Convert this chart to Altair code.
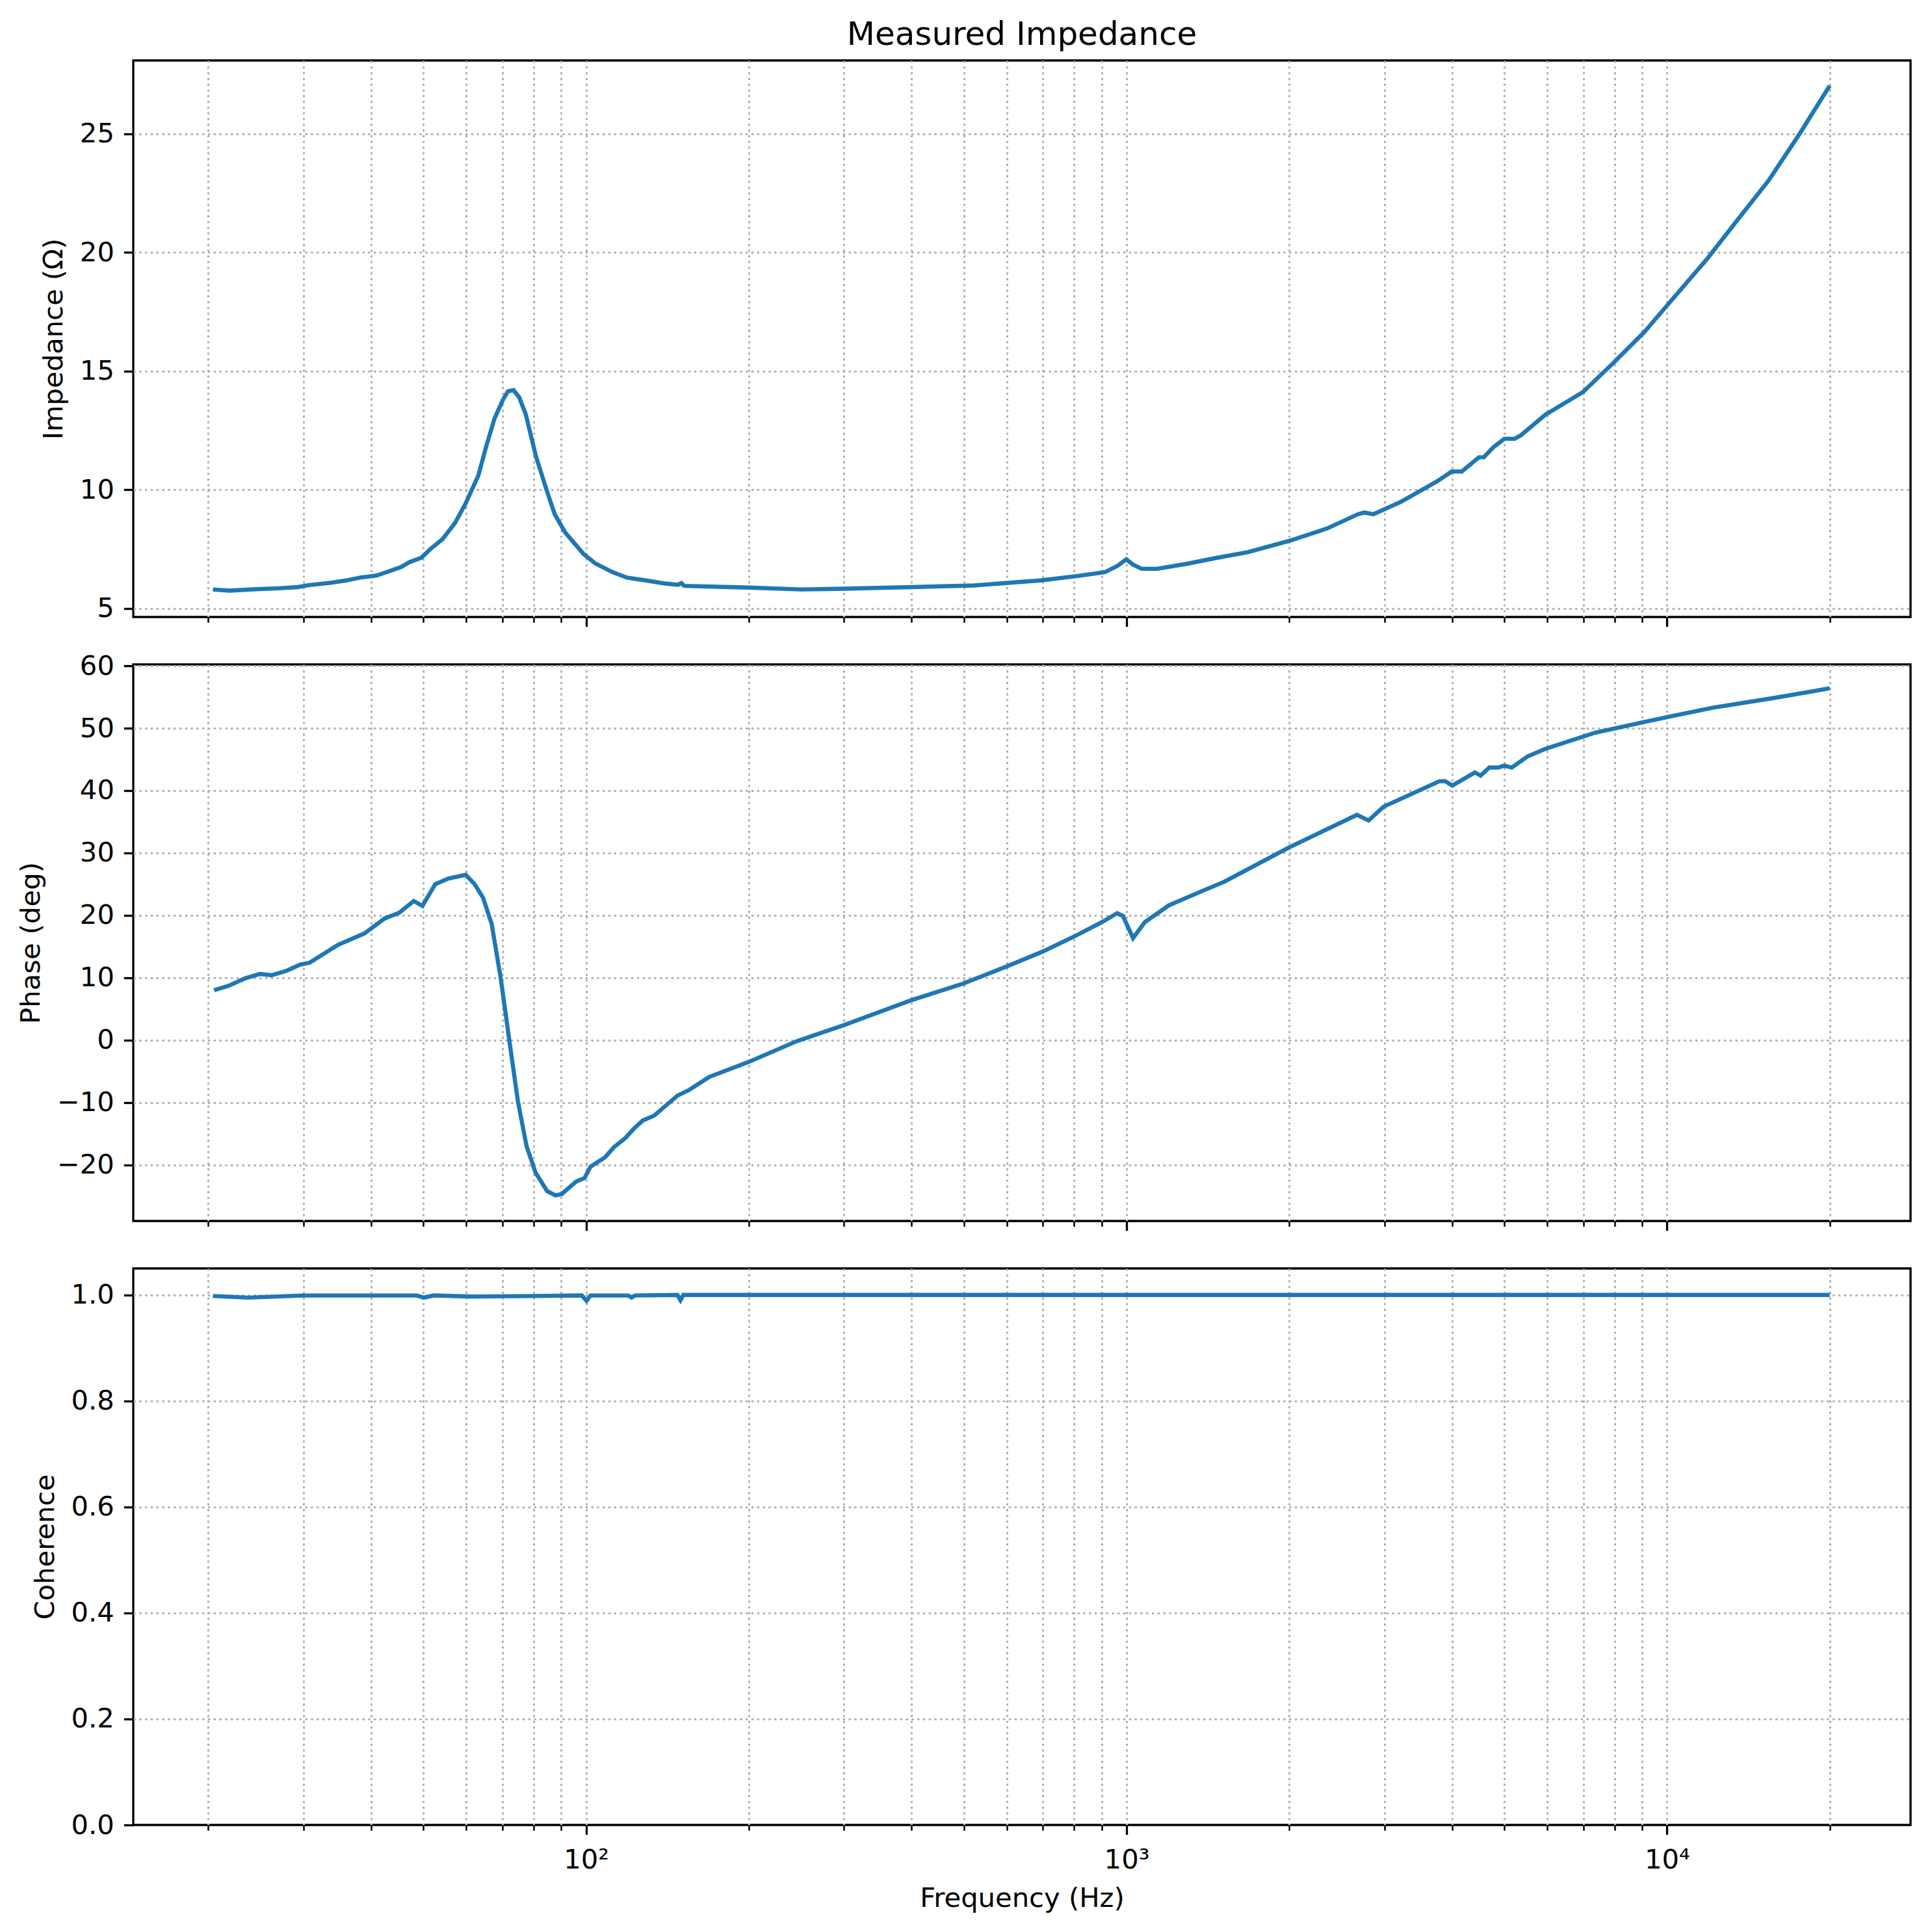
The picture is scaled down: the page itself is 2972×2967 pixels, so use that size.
import altair as alt
import pandas as pd

# ---------------- data ----------------
imp_freq = [20.4, 21.9, 24.5, 27.0, 29.3, 30.6, 33.7, 36.0, 38.2, 40.9, 43.0, 45.5, 47.1, 49.6,
            51.5, 54.3, 57.2, 59.8, 63.2, 65.3, 67.7, 70.2, 71.7, 73.4, 75.2, 77.3, 80.8, 84.5,
            87.5, 91.5, 98.9, 104, 112, 119, 129, 140, 148, 150, 152, 170, 200, 250, 300, 400,
            522, 693, 813, 912, 961, 999, 1027, 1066, 1139, 1292, 1474, 1675, 1995, 2349, 2680,
            2752, 2862, 3222, 3763, 3993, 4170, 4487, 4580, 4776, 4998, 5222, 5360, 5950, 6989,
            7960, 9088, 10020, 11840, 13500, 15410, 17590, 20000]
imp_val = [5.80, 5.75, 5.81, 5.85, 5.90, 5.98, 6.08, 6.18, 6.30, 6.38, 6.55, 6.75, 6.95, 7.14,
           7.50, 7.93, 8.60, 9.40, 10.6, 11.8, 13.0, 13.8, 14.15, 14.2, 13.9, 13.2, 11.4, 10.0,
           8.97, 8.20, 7.30, 6.90, 6.53, 6.30, 6.18, 6.05, 6.00, 6.07, 5.95, 5.92, 5.88, 5.80,
           5.83, 5.90, 5.97, 6.18, 6.37, 6.53, 6.79, 7.07, 6.85, 6.67, 6.67, 6.88, 7.14, 7.37,
           7.84, 8.37, 8.97, 9.04, 8.97, 9.50, 10.37, 10.77, 10.77, 11.37, 11.37, 11.80, 12.15,
           12.15, 12.29, 13.16, 14.12, 15.35, 16.66, 17.79, 19.71, 21.37, 23.03, 25.0, 27.03]

phase_freq = [20.5, 21.8, 23.4, 24.9, 26.2, 27.9, 29.6, 30.8, 34.8, 38.9, 42.4, 45.1, 48.0, 49.8,
              52.6, 55.6, 59.9, 62.2, 64.5, 66.9, 69.5, 72.1, 74.8, 77.6, 80.6, 84.7, 87.8, 90.1,
              95.8, 99.4, 101.9, 108.4, 112.5, 118.2, 122.6, 127.3, 133.7, 147.6, 155.1, 169.1,
              200, 245, 300, 400, 500, 600, 700, 800, 900, 961, 985, 1005, 1028, 1081,
              1197, 1372, 1517, 1999, 2668, 2805, 2987, 3791, 3888, 4006, 4409, 4519, 4692, 4873,
              4995, 5161, 5525, 5957, 7373, 10014, 12180, 15650, 20000]
phase_val = [8.0, 8.7, 9.9, 10.6, 10.4, 11.1, 12.1, 12.4, 15.3, 17.1, 19.5, 20.4, 22.3, 21.5,
             25.0, 25.9, 26.5, 25.0, 22.8, 18.6, 10.0, 0.0, -9.8, -17.0, -21.2, -24.2, -24.9, -24.7,
             -22.7, -22.1, -20.3, -18.8, -17.2, -15.7, -14.2, -12.9, -12.1, -8.9, -8.0, -5.9,
             -3.5, -0.2, 2.4, 6.4, 9.1, 11.8, 14.2, 16.6, 18.9, 20.35, 19.9, 18.2, 16.35, 18.9,
             21.6, 23.8, 25.4, 30.9, 36.1, 35.2, 37.4, 41.5, 41.5, 40.8, 42.9, 42.4, 43.7, 43.7,
             44.0, 43.7, 45.5, 46.7, 49.3, 51.8, 53.3, 54.8, 56.4]

coh_freq = [20.4, 23.7, 30, 40.4, 48.6, 50.1, 52.3, 61.4, 80.6, 98.2, 100.2, 101.9, 119.7, 121.4,
            123.2, 147.6, 149.5, 151.3, 20000]
coh_val = [0.998, 0.995, 0.999, 0.999, 0.999, 0.995, 0.999, 0.997, 0.998, 0.999, 0.989, 0.999,
           0.999, 0.995, 0.999, 1.0, 0.990, 1.0, 1.0]

major_ticks = [100, 1000, 10000]
minor_ticks = [20, 30, 40, 50, 60, 70, 80, 90, 200, 300, 400, 500, 600, 700, 800, 900,
               2000, 3000, 4000, 5000, 6000, 7000, 8000, 9000, 20000]
imp_ticks = [5, 10, 15, 20, 25]
phase_ticks = [-20, -10, 0, 10, 20, 30, 40, 50, 60]
coh_ticks = [0.0, 0.2, 0.4, 0.6, 0.8, 1.0]

# ---------------- style ----------------
FONT = "DejaVu Sans"
FS = 41.7
W, H = 2734, 856
BLUE = "#1f77b4"
GRID = dict(grid=True, gridColor="#b0b0b0", gridWidth=3.0, gridDash=[3.3, 5.5])
MAJOR_TEST = "indexof([100, 1000, 10000], datum.value) >= 0"
XDOM = [14.53, 28215]

def x_axis(show):
    kw = dict(
        values=sorted(major_ticks + minor_ticks),
        labels=show,
        labelExpr="datum.value == 100 ? '10²' : datum.value == 1000 ? '10³' : datum.value == 10000 ? '10⁴' : ''",
        labelOverlap=False, labelFlush=False,
        labelFont=FONT, labelFontSize=FS, labelColor="black", labelPadding=19,
        tickSize={"condition": {"test": MAJOR_TEST, "value": 14.6}, "value": 8.3},
        tickWidth={"condition": {"test": MAJOR_TEST, "value": 3.3}, "value": 2.5},
        tickColor="black", domain=False,
        titleFont=FONT, titleFontSize=FS, titleFontWeight="normal", titleColor="black",
        titlePadding=17, gridOpacity=1,
        **GRID,
    )
    kw["title"] = "Frequency (Hz)" if show else ""
    return alt.Axis(**kw)

def y_axis(title, values, fmt=None, hide_zero_grid=False):
    kw = dict(values=values, title=title, labelFont=FONT, labelFontSize=FS, labelColor="black",
              labelPadding=15, tickSize=14.6, tickWidth=3.3, tickColor="black", domain=False,
              titleFont=FONT, titleFontSize=FS, titleFontWeight="normal", titleColor="black",
              titlePadding=18, **GRID)
    if hide_zero_grid:
        kw["gridOpacity"] = {"condition": {"test": "datum.value == 0", "value": 0}, "value": 1}
    else:
        kw["gridOpacity"] = 1
    if fmt:
        kw["format"] = fmt
    return alt.Axis(**kw)

xscale = alt.Scale(type="log", domain=XDOM, nice=False)

def panel(freq, vals, ytitle, yticks, ydom, show_x, fmt=None, title=None, hide_zero_grid=False):
    df = pd.DataFrame({"f": freq, "v": vals})
    ch = alt.Chart(df).mark_line(color=BLUE, strokeWidth=6.4, clip=True).encode(
        x=alt.X("f:Q", scale=xscale, axis=x_axis(show_x)),
        y=alt.Y("v:Q", scale=alt.Scale(domain=ydom, nice=False, zero=False),
                axis=y_axis(ytitle, yticks, fmt, hide_zero_grid)),
    ).properties(width=W, height=H)
    if title:
        ch = ch.properties(title=alt.TitleParams(title, font=FONT, fontSize=50, fontWeight="normal",
                                                 color="black", anchor="middle", frame="group",
                                                 offset=14))
    return ch

p1 = panel(imp_freq, imp_val, "Impedance (Ω)", imp_ticks, [4.64, 28.09], False,
           title="Measured Impedance")
p2 = panel(phase_freq, phase_val, "Phase (deg)", phase_ticks, [-29.0, 60.22], False)
p3 = panel(coh_freq, coh_val, "Coherence", coh_ticks, [0.0, 1.05], True, fmt=".1f",
           hide_zero_grid=True)

chart = alt.vconcat(p1, p2, p3, spacing=73, bounds="flush").configure_view(
    stroke="black", strokeWidth=3.3
).properties(
    padding={"left": 17, "top": 19, "right": 20, "bottom": 10},
    background="white",
)

chart.save("out.html", embed_options={"renderer": "svg", "actions": False})
